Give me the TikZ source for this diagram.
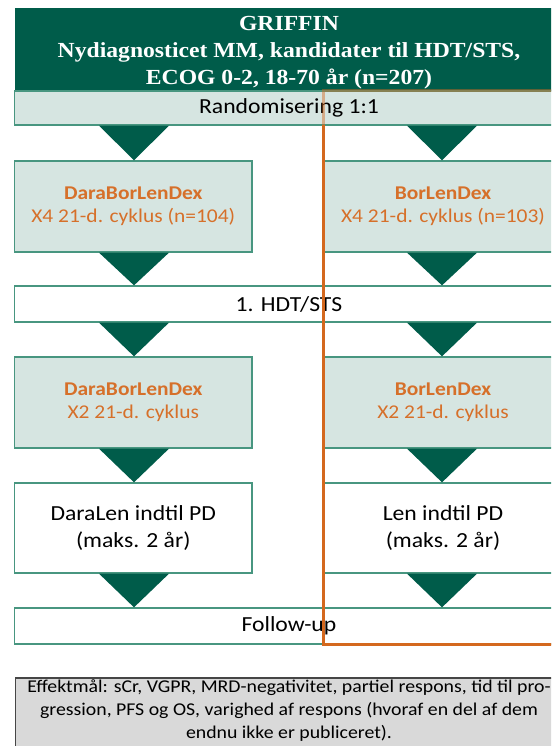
\documentclass[tikz,border=0pt]{standalone}
\usepackage{fontspec}
\setmainfont{Carlito}[FakeStretch=1.1]
\newfontfamily\headfont{Liberation Serif}[FakeStretch=1.1]
\usetikzlibrary{calc}

\definecolor{griffgreen}{RGB}{0,92,74}
\definecolor{paleteal}{RGB}{214,229,225}
\definecolor{edgeteal}{RGB}{72,150,128}
\definecolor{armorange}{RGB}{214,112,42}
\definecolor{frameorange}{RGB}{212,104,30}
\definecolor{notegray}{RGB}{217,217,217}
\definecolor{noteedge}{RGB}{70,70,70}

\tikzset{
  plainbox/.style={draw=edgeteal, line width=1.3pt, inner sep=0pt, align=center,
    text=black, font=\fontsize{21.5}{27}\selectfont},
  palebox/.style={plainbox, fill=paleteal},
  whitebox/.style={plainbox, fill=white},
  armbox/.style={palebox, text=armorange, font=\fontsize{19.5}{23}\selectfont},
  headbox/.style={fill=griffgreen, inner sep=0pt},
  headtext/.style={inner sep=0pt, align=center, text=white,
    font=\headfont\bfseries\fontsize{21.5}{27}\selectfont},
  notebox/.style={draw=noteedge, fill=notegray, line width=1.3pt, inner sep=0pt},
  notetext/.style={anchor=base, inner sep=0pt, font=\fontsize{18}{23}\selectfont},
  arrowtri/.style={fill=griffgreen},
}

\begin{document}
\begin{tikzpicture}[x=1pt, y=-1pt]
\useasboundingbox (0,0) rectangle (551,746);
\clip (0,0) rectangle (551,746);

% column axes of the two arms
\coordinate (colL) at (134,0);
\coordinate (colR) at (442,0);

% header and randomisation band
\node[headbox, minimum width=549pt, minimum height=83pt] (headbg) at (289,49.5) {};
\node[headtext] (head) at (289,52.5)
  {GRIFFIN\\Nydiagnosticet MM, kandidater til HDT/STS,\\ECOG 0-2, 18-70 år (n=207)};
\node[palebox, minimum width=549pt, minimum height=34pt] (rand) at (289,108)
  {Randomisering 1:1};

% induction
\node[armbox, minimum width=237.5pt, minimum height=91pt] (indL) at (133.25,206.5)
  {\textbf{DaraBorLenDex}\\X4 21-d. cyklus (n=104)};
\node[armbox, minimum width=240pt, minimum height=91pt] (indR) at (443,206.5)
  {\textbf{BorLenDex}\\X4 21-d. cyklus (n=103)};

% transplant band
\node[whitebox, minimum width=549pt, minimum height=36pt] (hdt) at (289,304)
  {1. HDT/STS};

% consolidation
\node[armbox, minimum width=237.5pt, minimum height=91pt] (conL) at (133.25,402.5)
  {\textbf{DaraBorLenDex}\\X2 21-d. cyklus};
\node[armbox, minimum width=240pt, minimum height=91pt] (conR) at (443,402.5)
  {\textbf{BorLenDex}\\X2 21-d. cyklus};

% maintenance
\node[whitebox, minimum width=237.5pt, minimum height=90pt] (maiL) at (133.25,528)
  {DaraLen indtil PD\\(maks. 2 år)};
\node[whitebox, minimum width=240pt, minimum height=90pt] (maiR) at (443,528)
  {Len indtil PD\\(maks. 2 år)};

% follow-up band
\node[whitebox, minimum width=549pt, minimum height=36pt] (fu) at (289,626)
  {Follow-up};

% downward triangles between the stages
\foreach \upper/\lower/\col in {rand/indL/colL, rand/indR/colR,
    indL/hdt/colL, indR/hdt/colR, hdt/conL/colL, hdt/conR/colR,
    conL/maiL/colL, conR/maiR/colR, maiL/fu/colL, maiR/fu/colR}{
  \fill[arrowtri] ($(\upper.south -| \col)+(-35,0)$) -- ($(\upper.south -| \col)+(35,0)$)
    -- (\lower.north -| \col) -- cycle;
}

% orange frame around the control arm
\draw[frameorange, line width=3pt, opacity=0.45]
  (323,125) -- (323,91) -- (600,91);
\draw[frameorange, line width=3pt]
  (323,125) -- (323,644) -- (600,644);

% endpoints note
\node[notebox, minimum width=547.5pt, minimum height=92pt] (note) at (289.25,724) {};
\node[notetext] (notea) at (289,692) {Effektmål: sCr, VGPR, MRD-negativitet, partiel respons, tid til pro-};
\node[notetext] (noteb) at (289,715) {gression, PFS og OS, varighed af respons (hvoraf en del af dem};
\node[notetext] (notec) at (289,738) {endnu ikke er publiceret).};
\end{tikzpicture}
\end{document}
